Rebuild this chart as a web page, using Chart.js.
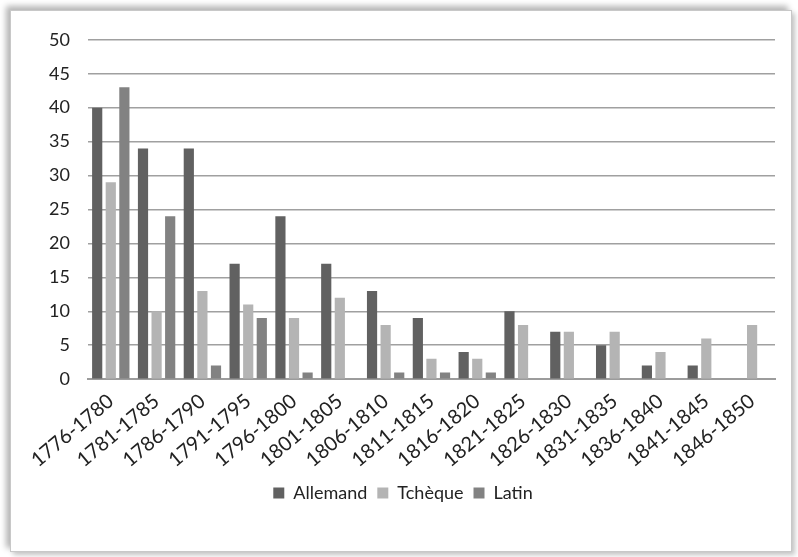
<!DOCTYPE html>
<html>
<head>
<meta charset="utf-8">
<script src="https://cdn.jsdelivr.net/npm/chart.js@4.4.1/dist/chart.umd.min.js"></script>
<style>
  html, body { margin: 0; padding: 0; background: #fff; }
  body { width: 798px; height: 557px; position: relative; overflow: hidden; }
  #frame {
    position: absolute; left: 10px; top: 10px; width: 780px; height: 540px;
    background: #fff; border: 1px solid #c8c8c8;
    box-shadow: -4px -4px 6px #b5b5b5, 3px 3px 5px #c5c5c5;
  }
  #wrap { position: absolute; left: 0; top: 0; width: 780px; height: 540px; }
</style>
</head>
<body>
<div id="frame"><div id="wrap"><canvas id="langChart"></canvas></div></div>
<script>
const periods = ['1776-1780', '1781-1785', '1786-1790', '1791-1795', '1796-1800', '1801-1805', '1806-1810',
    '1811-1815', '1816-1820', '1821-1825', '1826-1830', '1831-1835', '1836-1840', '1841-1845', '1846-1850'];
const allemand = [40, 34, 34, 17, 24, 17, 13, 9, 4, 10, 7, 5, 2, 2, 0];
const tcheque = [29, 10, 13, 11, 9, 12, 8, 3, 3, 8, 7, 7, 4, 6, 8];
const latin = [43, 24, 2, 9, 1, 0, 1, 1, 1, 0, 0, 0, 0, 0, 0];

const ctx = document.getElementById('langChart').getContext('2d');
const fontFamily = 'Lato, "Open Sans", sans-serif';

new Chart(ctx, {
    type: 'bar',
    data: {
        labels: periods,
        datasets: [
            { label: 'Allemand', data: allemand, backgroundColor: '#616161' },
            { label: 'Tchèque', data: tcheque, backgroundColor: '#b4b4b4' },
            { label: 'Latin', data: latin, backgroundColor: '#828282' }
        ]
    },
    options: {
        responsive: true,
        maintainAspectRatio: false,
        animation: false,
        layout: { padding: { left: 20, right: 16, top: 16, bottom: 39 } },
        datasets: {
            bar: { categoryPercentage: 0.89, barPercentage: 0.75 }
        },
        scales: {
            x: {
                grid: { display: false },
                border: { color: '#9c9c9c', width: 2 },
                ticks: {
                    color: '#222',
                    font: { family: fontFamily, size: 20 },
                    minRotation: 40,
                    maxRotation: 40,
                    autoSkip: false,
                    padding: 2
                }
            },
            y: {
                min: 0,
                max: 50,
                grid: { color: '#a0a0a0', lineWidth: 1.5, drawTicks: false },
                border: { display: false },
                ticks: {
                    stepSize: 5,
                    color: '#222',
                    font: { family: fontFamily, size: 18 },
                    padding: 18
                }
            }
        },
        plugins: {
            legend: {
                display: true,
                position: 'bottom',
                labels: {
                    color: '#222',
                    font: { family: fontFamily, size: 18 },
                    boxWidth: 11,
                    boxHeight: 11,
                    padding: 10
                }
            },
            tooltip: { enabled: false }
        }
    }
});
</script>
</body>
</html>
